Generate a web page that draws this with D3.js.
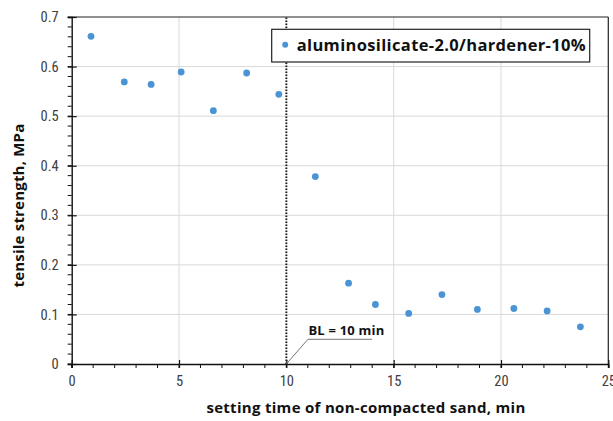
<!DOCTYPE html>
<html>
<head>
<meta charset="utf-8">
<script src="https://cdn.jsdelivr.net/npm/d3@7"></script>
<style>
    body { margin: 0; background: #fff; }
    svg { display: block; font-family: "Open Sans", "Liberation Sans", sans-serif; }
</style>
</head>
<body>
<svg id="chart" width="613" height="421"></svg>
<script>
// setting time (min) and tensile strength (MPa)
var settingTime = [0.9, 2.45, 3.7, 5.1, 6.6, 8.15, 9.65, 11.35, 12.9, 14.15, 15.7, 17.25, 18.9, 20.6, 22.15, 23.7];
var tensileStrength = [0.661, 0.569, 0.564, 0.589, 0.511, 0.587, 0.544, 0.378, 0.163, 0.120, 0.102, 0.140, 0.110, 0.112, 0.107, 0.075];
var xTicks = [0, 5, 10, 15, 20, 25];
var yTicks = [0, 0.1, 0.2, 0.3, 0.4, 0.5, 0.6, 0.7];
var seriesName = "aluminosilicate-2.0/hardener-10%";
var blTime = 10;

var margin = { top: 17, right: 5, bottom: 57, left: 71.7 },
    width = 608.3 - margin.left,
    height = 364 - margin.top;

var x = d3.scaleLinear().domain([0, 25]).range([0, width]);
var y = d3.scaleLinear().domain([0, 0.7]).range([height, 0]);

var svg = d3.select("#chart")
    .append("g")
    .attr("transform", "translate(" + margin.left + "," + margin.top + ")");

// grid
svg.append("g").selectAll("line").data(xTicks.slice(1, -1)).enter().append("line")
    .attr("x1", function (d) { return x(d); }).attr("x2", function (d) { return x(d); })
    .attr("y1", 0).attr("y2", height)
    .attr("stroke", "#d9d9d9").attr("stroke-width", 1);
svg.append("g").selectAll("line").data(yTicks.slice(1, -1)).enter().append("line")
    .attr("y1", function (d) { return y(d); }).attr("y2", function (d) { return y(d); })
    .attr("x1", 0).attr("x2", width)
    .attr("stroke", "#d9d9d9").attr("stroke-width", 1);

// frame top / right
svg.append("line").attr("x1", 0).attr("x2", width).attr("y1", 0).attr("y2", 0)
    .attr("stroke", "#222").attr("stroke-width", 1.2);
svg.append("line").attr("x1", width).attr("x2", width).attr("y1", 0).attr("y2", height)
    .attr("stroke", "#222").attr("stroke-width", 1.2);

// minor ticks
var xMinor = d3.range(0, 25.01, 1);
var yMinor = d3.range(0, 0.701, 0.02);
svg.append("g").selectAll("line").data(xMinor).enter().append("line")
    .attr("x1", function (d) { return x(d); }).attr("x2", function (d) { return x(d); })
    .attr("y1", height).attr("y2", height + 4)
    .attr("stroke", "#111").attr("stroke-width", 1);
svg.append("g").selectAll("line").data(yMinor).enter().append("line")
    .attr("y1", function (d) { return y(d); }).attr("y2", function (d) { return y(d); })
    .attr("x1", -4).attr("x2", 0)
    .attr("stroke", "#111").attr("stroke-width", 1);

// axes
var xAxis = d3.axisBottom(x).tickValues(xTicks).tickSize(4).tickPadding(8)
    .tickFormat(d3.format("d"));
var yAxis = d3.axisLeft(y).tickValues(yTicks).tickSize(4).tickPadding(9)
    .tickFormat(function (d) { return d === 0 ? "0" : d3.format(".1f")(d); });

var gx = svg.append("g").attr("transform", "translate(0," + height + ")").call(xAxis);
var gy = svg.append("g").call(yAxis);
[gx, gy].forEach(function (g) {
    g.select(".domain").attr("stroke", "#111").attr("stroke-width", 1.4);
    g.selectAll(".tick line").attr("stroke", "#111").attr("stroke-width", 1.2);
    g.selectAll(".tick text").attr("fill", "#404040").style("font-size", "14.5px")
        .style("font-family", "'Roboto Condensed', 'Liberation Sans Narrow', 'Roboto', sans-serif");
});
// major ticks cross the axis
gx.selectAll(".tick line").attr("y1", -4);
gy.selectAll(".tick line").attr("x1", 5).attr("x2", -4);

// BL line
svg.append("line")
    .attr("x1", x(blTime)).attr("x2", x(blTime))
    .attr("y1", y(0)).attr("y2", 0)
    .attr("stroke", "#222").attr("stroke-width", 2)
    .attr("stroke-dasharray", "1.5,1.5");

// annotation
var annX = x(blTime) + 21.6, annY = y(0) - 24.7;
svg.append("polyline")
    .attr("points", [[x(blTime), y(0)], [annX, annY], [annX + 64, annY]].map(function (p) { return p.join(","); }).join(" "))
    .attr("fill", "none").attr("stroke", "#777").attr("stroke-width", 1);
svg.append("text")
    .attr("x", annX + 0.5).attr("y", annY - 4)
    .style("font-size", "13px").style("font-weight", "bold").style("letter-spacing", "0.2px")
    .attr("fill", "#111")
    .text("BL = " + blTime + " min");

// points
svg.append("g").selectAll("circle").data(settingTime).enter().append("circle")
    .attr("cx", function (d) { return x(d); })
    .attr("cy", function (d, i) { return y(tensileStrength[i]); })
    .attr("r", 3.4)
    .attr("fill", "#4a94d6");

// legend
var leg = svg.append("g").attr("transform", "translate(" + (271.7 - margin.left) + "," + (29.3 - margin.top) + ")");
leg.append("rect").attr("width", 318).attr("height", 32.7)
    .attr("fill", "#fff").attr("stroke", "#222").attr("stroke-width", 1.2);
leg.append("circle").attr("cx", 13.5).attr("cy", 15.5).attr("r", 3).attr("fill", "#4a94d6");
leg.append("text").attr("x", 25).attr("y", 22)
    .style("font-size", "16.5px").style("font-weight", "bold").style("letter-spacing", "0.35px")
    .attr("fill", "#111")
    .text(seriesName);

// axis titles
svg.append("text")
    .attr("x", width / 2 + 26).attr("y", height + 49)
    .attr("text-anchor", "middle")
    .style("font-size", "15px").style("font-weight", "bold").style("letter-spacing", "0.3px")
    .attr("fill", "#111")
    .text("setting time of non-compacted sand, min");
svg.append("text")
    .attr("transform", "translate(" + (-47.5) + "," + (height / 2 + 15) + ") rotate(-90)")
    .attr("text-anchor", "middle")
    .style("font-size", "15px").style("font-weight", "bold").style("letter-spacing", "0.2px")
    .attr("fill", "#111")
    .text("tensile strength, MPa");
</script>
</body>
</html>
